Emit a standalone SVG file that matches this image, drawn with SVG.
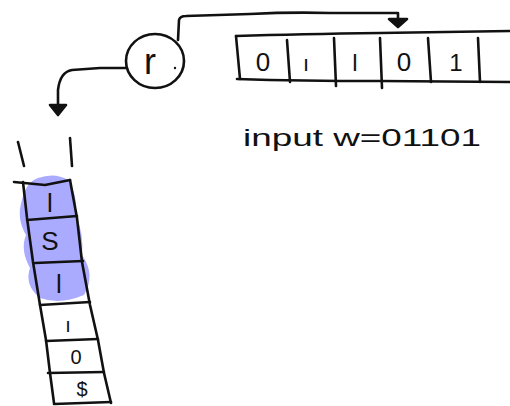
<svg xmlns="http://www.w3.org/2000/svg" width="510" height="406" viewBox="0 0 510 406">
<style>
.s{fill:none;stroke:#111;stroke-width:2.6;stroke-linecap:round;stroke-linejoin:round}
.a{fill:#111;stroke:#111;stroke-width:2.6;stroke-linejoin:round}
.t{font-family:"Liberation Sans",Arial,sans-serif;fill:#111}
</style>
<rect width="510" height="406" fill="#fff"/>
<g id="connectors">
<path class="s" d="M178,40 L179,20 Q180,16 186,16 L250,14 Q290,12 330,13 L398,13 L398,22"/>
<path class="a" d="M389,19 L407,19 L398,27 Z"/>
<path class="s" d="M126,68 L100,68 L72,70 Q60,72 58,90 L58,108"/>
<path class="a" d="M50,105 L66,105 L58,115 Z"/>
</g>
<g id="state">
<ellipse class="s" cx="155" cy="61" rx="29" ry="27"/>
<text class="t" x="144" y="74" font-size="36">r</text>
<circle cx="175" cy="68" r="1.2" fill="#111"/>
</g>
<g id="tape">
<path class="s" d="M236,36 Q300,34 380,33 L510,31"/>
<path class="s" d="M237,79 Q300,81 380,81 L510,82"/>
<path class="s" d="M236,36 L240,79"/>
<path class="s" d="M287,40 L290,82"/>
<path class="s" d="M334,38 L336,86"/>
<path class="s" d="M380,38 L382,88"/>
<path class="s" d="M428,38 L431,82"/>
<path class="s" d="M478,38 L480,82"/>
<text class="t" x="263" y="71" font-size="26" text-anchor="middle">0</text>
<text class="t" x="306" y="71" font-size="22" text-anchor="middle">ı</text>
<text class="t" x="355" y="71" font-size="24" text-anchor="middle">l</text>
<text class="t" x="404" y="71" font-size="26" text-anchor="middle">0</text>
<text class="t" x="456" y="71" font-size="24" text-anchor="middle">1</text>
</g>
<g id="input-label">
<text class="t" x="243" y="146" font-size="24" textLength="238" lengthAdjust="spacingAndGlyphs">input  w=01101</text>
</g>
<g id="stack">
<path fill="#aaaaff" d="M38,178 Q55,172 68,180 Q78,195 76,215 Q84,235 82,255 Q96,275 84,295 Q60,305 40,298 Q24,285 30,268 Q20,250 26,235 Q16,218 22,200 Q26,182 38,178 Z"/>
<path class="s" d="M18,142 L24,166"/>
<path class="s" d="M70,138 L72,166"/>
<path class="s" d="M14,182 L45,185 L70,180"/>
<path class="s" d="M23,182 L27,218 L33,262 L40,305 L46,340 L50,373 L54,403"/>
<path class="s" d="M70,180 L77,218 L82,262 L90,305 L98,340 L104,373 L111,403"/>
<path class="s" d="M27,220 L77,216"/>
<path class="s" d="M35,263 L83,261"/>
<path class="s" d="M40,305 L90,302"/>
<path class="s" d="M46,341 L98,339"/>
<path class="s" d="M48,373 L104,372"/>
<path class="s" d="M54,404 L111,402"/>
<text class="t" x="50" y="212" font-size="26" text-anchor="middle">l</text>
<text class="t" x="50" y="250" font-size="26" text-anchor="middle">S</text>
<text class="t" x="59" y="293" font-size="26" text-anchor="middle">l</text>
<text class="t" x="68" y="332" font-size="20" text-anchor="middle">ı</text>
<text class="t" x="76" y="364" font-size="20" text-anchor="middle">0</text>
<text class="t" x="82" y="396" font-size="20" text-anchor="middle">$</text>
</g>
</svg>
